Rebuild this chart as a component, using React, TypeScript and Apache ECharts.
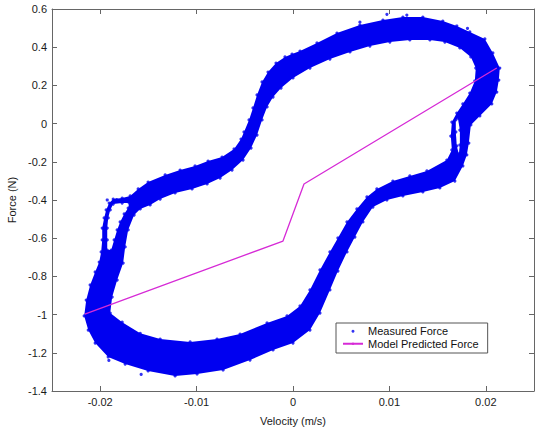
import { useEffect, useRef } from "react";
import * as echarts from "echarts";

const FONT = '"Liberation Sans", Arial, Helvetica, sans-serif';
const BLUE = "#0000f0";
const MAGENTA = "#d62ad6";

const xTicks = [-0.02, -0.01, 0, 0.01, 0.02];
const yTicks = [0.6, 0.4, 0.2, 0, -0.2, -0.4, -0.6, -0.8, -1, -1.2, -1.4];

// Measured force: outer rim of the hysteresis loop [velocity (m/s), force (N)]
const outerEdge: [number, number][] = [
  [-0.02166, -1.007], [-0.02145, -0.924], [-0.02104, -0.845], [-0.02052, -0.777],
  [-0.0201, -0.725], [-0.0199, -0.672], [-0.01979, -0.609], [-0.01979, -0.547],
  [-0.01959, -0.494], [-0.01938, -0.452], [-0.01907, -0.416], [-0.01865, -0.395],
  [-0.01772, -0.39], [-0.01689, -0.379], [-0.01606, -0.342], [-0.01503, -0.306],
  [-0.01326, -0.269], [-0.01171, -0.243], [-0.01016, -0.222], [-0.00881, -0.196],
  [-0.00736, -0.175], [-0.00611, -0.133], [-0.00539, -0.081], [-0.00508, -0.044],
  [-0.00456, 0.019], [-0.00415, 0.082], [-0.00373, 0.15], [-0.00321, 0.218],
  [-0.00259, 0.27], [-0.00176, 0.317], [-0.00083, 0.349], [-0.0001, 0.364],
  [0.00073, 0.38], [0.00249, 0.422], [0.00456, 0.474], [0.00694, 0.516],
  [0.00933, 0.542], [0.0114, 0.558], [0.01347, 0.558], [0.01554, 0.537],
  [0.01699, 0.511], [0.01834, 0.48], [0.0199, 0.443], [0.02073, 0.37],
  [0.02145, 0.291], [0.02135, 0.228], [0.02114, 0.165], [0.02062, 0.103],
  [0.01938, 0.04], [0.01845, -0.007], [0.01824, -0.102], [0.01803, -0.164],
  [0.01762, -0.222], [0.01679, -0.301], [0.01523, -0.337], [0.01347, -0.358],
  [0.0114, -0.379], [0.00974, -0.4], [0.00829, -0.437], [0.00725, -0.515],
  [0.00642, -0.594], [0.0056, -0.672], [0.00466, -0.772], [0.00383, -0.871],
  [0.0028, -0.992], [0.00176, -1.081], [0.0, -1.149], [-0.00207, -1.185],
  [-0.00446, -1.238], [-0.00725, -1.29], [-0.00995, -1.311], [-0.01223, -1.321],
  [-0.01503, -1.295], [-0.01741, -1.259], [-0.01917, -1.222], [-0.02052, -1.149],
  [-0.02124, -1.081],
];

// Measured force: inner rim of the loop
const innerEdge: [number, number][] = [
  [-0.01896, -0.992], [-0.01876, -0.908], [-0.01824, -0.819], [-0.01762, -0.73],
  [-0.01741, -0.646], [-0.0171, -0.557], [-0.01648, -0.479], [-0.01585, -0.447],
  [-0.01482, -0.426], [-0.01378, -0.395], [-0.01223, -0.363], [-0.01047, -0.342],
  [-0.00891, -0.316], [-0.00756, -0.285], [-0.00632, -0.243], [-0.00518, -0.191],
  [-0.00435, -0.128], [-0.00373, -0.06], [-0.00321, 0.019], [-0.00269, 0.087],
  [-0.00207, 0.139], [-0.00124, 0.186], [0.0, 0.239], [0.00176, 0.291],
  [0.00383, 0.338], [0.00591, 0.375], [0.00798, 0.406], [0.01005, 0.427],
  [0.01212, 0.438], [0.0142, 0.438], [0.01575, 0.427], [0.01731, 0.396],
  [0.01845, 0.349], [0.01896, 0.291], [0.01886, 0.223], [0.01834, 0.16],
  [0.01762, 0.103], [0.01699, 0.055], [0.01648, 0.008], [0.01637, -0.065],
  [0.01648, -0.138], [0.01596, -0.191], [0.01389, -0.248], [0.01212, -0.274],
  [0.01036, -0.301], [0.0087, -0.342], [0.00767, -0.384], [0.00663, -0.447],
  [0.0056, -0.515], [0.00466, -0.599], [0.00383, -0.672], [0.0028, -0.766],
  [0.00176, -0.871], [0.00073, -0.955], [-0.00062, -1.007], [-0.00269, -1.044],
  [-0.00549, -1.102], [-0.00788, -1.128], [-0.01067, -1.143], [-0.01378, -1.128],
  [-0.01585, -1.098], [-0.01772, -1.04],
];

// Open space between the two strands on the left branch
const leftGap: [number, number][] = [
  [-0.01927, -0.662], [-0.01927, -0.609], [-0.01927, -0.547], [-0.01917, -0.494],
  [-0.01896, -0.452], [-0.01865, -0.421], [-0.01772, -0.416], [-0.01699, -0.416],
  [-0.0171, -0.442], [-0.01751, -0.473], [-0.01793, -0.515], [-0.01824, -0.557],
  [-0.01855, -0.609], [-0.01886, -0.662],
];

// Open space between the two strands on the right branch
const rightGap: [number, number][] = [
  [0.0171, 0.029], [0.01731, -0.034], [0.01731, -0.112], [0.0172, -0.159],
  [0.01699, -0.117], [0.01689, -0.044], [0.01689, 0.019],
];

// Isolated readings just off the band
const strayPoints: [number, number][] = [
  [0.00974, 0.572], [0.00694, 0.531], [0.01181, 0.568], [-0.01575, -1.313],
  [-0.0191, -1.24], [-0.01927, -0.4], [-0.0183, -0.398], [0.0181, 0.498],
];

// Model predicted force, piecewise linear
const modelVelocity = [-0.0216, -0.00104, 0.00114, 0.02114];
const modelForce = [-0.997, -0.615, -0.316, 0.291];

const measuredPoints = [...outerEdge, ...innerEdge, ...leftGap, ...rightGap, ...strayPoints];
const modelPoints = modelVelocity.map((v, i) => [v, modelForce[i]]);

const axisLine = { show: true, onZero: false, lineStyle: { color: "#666", width: 1 } };
const axisTick = { show: true, inside: true, length: 5, lineStyle: { color: "#666" } };
const labelStyle = { color: "#1a1a1a", fontSize: 11, fontFamily: FONT };

export default function App() {
  const ref = useRef<HTMLDivElement>(null);

  useEffect(() => {
    document.body.style.margin = "0";
    if (!ref.current) return;
    const chart = echarts.init(ref.current, null, { renderer: "svg" });

    chart.setOption({
      animation: false,
      backgroundColor: "#fff",
      grid: {
        left: 52,
        top: 9,
        width: 482,
        height: 382,
        containLabel: false,
        outerBoundsMode: "none",
      },
      xAxis: [
        {
          type: "value",
          position: "bottom",
          min: -0.025,
          max: 0.025,
          interval: 0.005,
          axisLine,
          axisTick: { ...axisTick, customValues: xTicks },
          axisLabel: { ...labelStyle, margin: 5, customValues: xTicks },
          splitLine: { show: false },
          name: "Velocity (m/s)",
          nameLocation: "middle",
          nameGap: 24,
          nameTextStyle: { ...labelStyle },
        },
        {
          type: "value",
          position: "top",
          min: -0.025,
          max: 0.025,
          interval: 0.005,
          axisLine,
          axisTick: { ...axisTick, customValues: xTicks },
          axisLabel: { show: false },
          splitLine: { show: false },
        },
      ],
      yAxis: [
        {
          type: "value",
          position: "left",
          min: -1.4,
          max: 0.6,
          interval: 0.2,
          axisLine,
          axisTick: { ...axisTick, customValues: yTicks },
          axisLabel: { ...labelStyle, margin: 5, customValues: yTicks },
          splitLine: { show: false },
          name: "Force (N)",
          nameLocation: "middle",
          nameRotate: 90,
          nameGap: 33,
          nameTextStyle: { ...labelStyle },
        },
        {
          type: "value",
          position: "right",
          min: -1.4,
          max: 0.6,
          interval: 0.2,
          axisLine,
          axisTick: { ...axisTick, customValues: yTicks },
          axisLabel: { show: false },
          splitLine: { show: false },
        },
      ],
      legend: {
        orient: "vertical",
        left: 336,
        top: 323,
        data: ["Measured Force", "Model Predicted Force"],
        itemWidth: 20,
        itemHeight: 3,
        itemGap: 0,
        itemTextGap: 7,
        padding: [2, 9, 3, 6],
        borderColor: "#555",
        borderWidth: 1,
        backgroundColor: "#fff",
        selectedMode: false,
        textStyle: { color: "#111", fontSize: 11, fontFamily: FONT, lineHeight: 12.5 },
      },
      series: [
        {
          name: "measured-band",
          type: "custom",
          silent: true,
          z: 1,
          data: [[0, 0]],
          renderItem: (_params: any, api: any) => {
            const pts = (arr: [number, number][]) => arr.map((p) => api.coord(p));
            return {
              type: "group",
              children: [
                { type: "polygon", shape: { points: pts(outerEdge) }, style: { fill: BLUE } },
                { type: "polygon", shape: { points: pts(innerEdge) }, style: { fill: "#fff" } },
                { type: "polygon", shape: { points: pts(leftGap) }, style: { fill: "#fff" } },
                { type: "polygon", shape: { points: pts(rightGap) }, style: { fill: "#fff" } },
              ],
            };
          },
        },
        {
          name: "Measured Force",
          type: "scatter",
          z: 2,
          symbol: "circle",
          symbolSize: 3.2,
          itemStyle: { color: BLUE },
          data: measuredPoints,
        },
        {
          name: "Model Predicted Force",
          type: "line",
          z: 3,
          symbol: "none",
          lineStyle: { color: MAGENTA, width: 1.3 },
          itemStyle: { color: MAGENTA },
          data: modelPoints,
        },
      ],
    });

    return () => chart.dispose();
  }, []);

  return (
    <div
      ref={ref}
      style={{ position: "fixed", left: 0, top: 0, width: 535, height: 427, background: "#fff" }}
    />
  );
}
